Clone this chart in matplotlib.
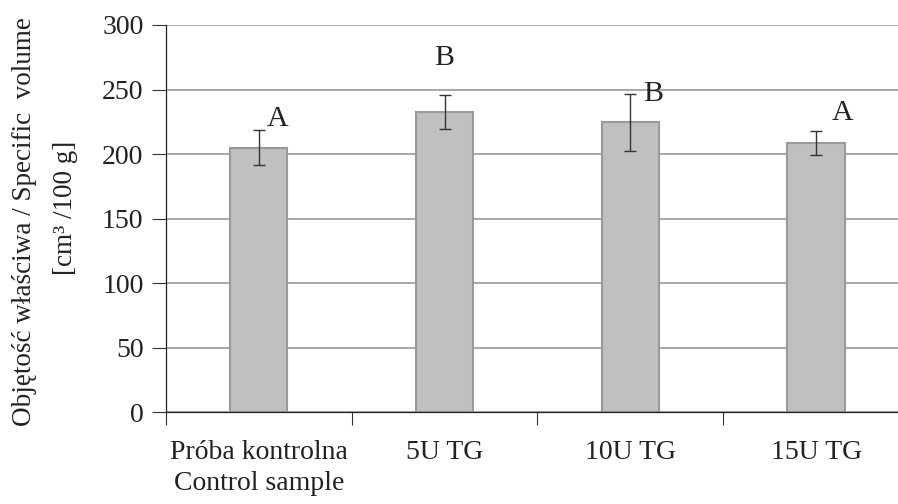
import numpy as np
import matplotlib.pyplot as plt

plt.rcParams['font.family'] = ['Liberation Serif', 'DejaVu Serif']

categories = ['Próba kontrolna\nControl sample', '5U TG', '10U TG', '15U TG']
means = [205, 232.6, 224.6, 208.5]
errors = [13.5, 13.3, 22.0, 9.0]
letters = ['A', 'B', 'B', 'A']
letter_y = [227, 274.5, 246.5, 232]
y_ticks = [0, 50, 100, 150, 200, 250, 300]

letter_dx = [0.10, 0.0, 0.12, 0.14]

fig = plt.figure(figsize=(8.98, 5.04), dpi=100)
ax = fig.add_axes([0.1846, 0.1825, 0.8154, 0.7679])

x = np.arange(len(categories))
ax.set_axisbelow(True)
ax.yaxis.grid(True, color='#a0a0a0', linewidth=1.3)
ax.bar(x, means, width=0.31, color='#c0c0c0', edgecolor='#999999', linewidth=1.5, zorder=2)
ax.errorbar(x, means, yerr=errors, fmt='none', ecolor='#333333', elinewidth=1.0,
            capsize=4, capthick=1.0, zorder=3)

for xi, dx, ly, lt in zip(x, letter_dx, letter_y, letters):
    ax.text(xi + dx, ly, lt, ha='center', va='center', fontsize=21.5, color='#222222')

ax.set_xlim(-0.5, 3.44)
ax.set_ylim(0, 300)
ax.set_yticks(y_ticks)
ax.set_yticklabels([str(v) for v in y_ticks])
ax.set_xticks([-0.5, 0.5, 1.5, 2.5])
ax.set_xticklabels([])
ax.set_xticks(x, minor=True)
ax.set_xticklabels(categories, minor=True, linespacing=1.32)
ax.tick_params(axis='x', which='minor', length=0, pad=20, labelsize=20, labelcolor='#222222')
ax.tick_params(axis='x', which='major', length=9, width=0.8, color='#333333')
ax.tick_params(axis='y', length=10, width=0.8, pad=6, labelsize=20, labelcolor='#222222',
               color='#333333')

for s in ['top', 'right']:
    ax.spines[s].set_visible(False)
for s in ['left', 'bottom']:
    ax.spines[s].set_color('#222222')
    ax.spines[s].set_linewidth(0.9)

fig.text(0.0278, 0.5595, 'Objętość właściwa / Specific  volume', rotation=90,
         ha='center', va='center', fontsize=19.5, color='#222222')
fig.text(0.0724, 0.587, '[cm³ /100 g]', rotation=90,
         ha='center', va='center', fontsize=19.5, color='#222222')

fig.savefig('out.png', dpi=100)
